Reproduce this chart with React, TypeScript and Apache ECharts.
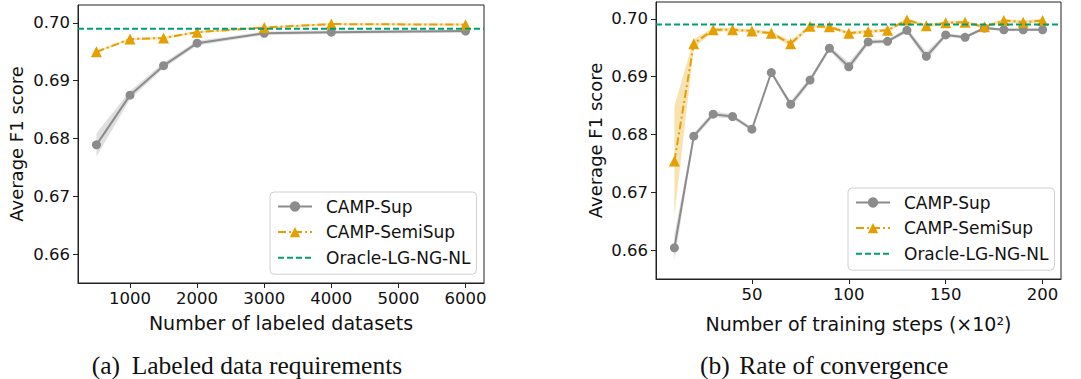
import React, { useEffect, useRef } from 'react';
import * as echarts from 'echarts';

// ---- Data: (a) Labeled data requirements ----
const leftX = [500, 1000, 1500, 2000, 3000, 4000, 6000];
const leftSup = [0.6789, 0.6875, 0.6926, 0.6965, 0.6982, 0.6984, 0.6986];
const leftSupErr = [0.002, 0.0007, 0.0005, 0.0004, 0.0003, 0.0003, 0.0003];
const leftSemi = [0.695, 0.6972, 0.6974, 0.6984, 0.6992, 0.6998, 0.6997];
const leftSemiErr = [0.0002, 0.0002, 0.0002, 0.0002, 0.0002, 0.0002, 0.0002];
const leftXTicks = [1000, 2000, 3000, 4000, 5000, 6000];

// ---- Data: (b) Rate of convergence ----
const rightX = [10, 20, 30, 40, 50, 60, 70, 80, 90, 100, 110, 120, 130, 140, 150, 160, 170, 180, 190, 200];
const rightSup = [0.6604, 0.6797, 0.6835, 0.6831, 0.6809, 0.6907, 0.6852, 0.6894, 0.6949, 0.6917, 0.696, 0.6961, 0.698, 0.6935, 0.6972, 0.6968, 0.6984, 0.6981, 0.6981, 0.6981];
const rightSupErr = [0.0023, 0.0005, 0.0005, 0.0004, 0.0003, 0.0002, 0.0006, 0.0005, 0.0004, 0.0008, 0.0004, 0.0003, 0.0004, 0.0008, 0.0003, 0.0003, 0.0002, 0.0002, 0.0002, 0.0002];
const rightSemi = [0.6754, 0.6957, 0.6981, 0.6981, 0.6979, 0.6975, 0.6957, 0.6987, 0.6986, 0.6975, 0.6978, 0.698, 0.6998, 0.6988, 0.6993, 0.6994, 0.6986, 0.6997, 0.6994, 0.6997];
const rightSemiErr = [0.0095, 0.0008, 0.0003, 0.0003, 0.0003, 0.0003, 0.0005, 0.0003, 0.0003, 0.0003, 0.0003, 0.0003, 0.0003, 0.0003, 0.0003, 0.0003, 0.0003, 0.0003, 0.0003, 0.0003];
const rightXTicks = [50, 100, 150, 200];

const oracleValue = 0.699;
const yTicks = [0.66, 0.67, 0.68, 0.69, 0.7];
const seriesNames = ['CAMP-Sup', 'CAMP-SemiSup', 'Oracle-LG-NG-NL'];

const GRAY = '#8c8c8c';
const ORANGE = '#e69f00';
const GREEN = '#009e73';
const AXIS = '#222';
const FONT = 'DejaVu Sans';

function xAxisCfg(gridIndex: number, min: number, max: number, ticks: number[]) {
  return {
    type: 'value', gridIndex, min, max,
    axisLine: { show: true, onZero: false, lineStyle: { color: AXIS, width: 1 } },
    axisTick: { show: true, length: 5, lineStyle: { color: AXIS, width: 1 }, customValues: ticks },
    axisLabel: { customValues: ticks, fontSize: 16.5, color: '#111', fontFamily: FONT, margin: 7,
      formatter: (v: number) => String(v) },
    splitLine: { show: false },
  };
}
function yAxisCfg(gridIndex: number, min: number, max: number) {
  return {
    type: 'value', gridIndex, min, max,
    axisLine: { show: true, onZero: false, lineStyle: { color: AXIS, width: 1 } },
    axisTick: { show: true, length: 5, lineStyle: { color: AXIS, width: 1 }, customValues: yTicks },
    axisLabel: { customValues: yTicks, fontSize: 16.5, color: '#111', fontFamily: FONT, margin: 8,
      formatter: (v: number) => v.toFixed(2) },
    splitLine: { show: false },
  };
}

// Shaded band (mean ± err) drawn as one polygon through the axis scales
function bandSeries(idx: number, xs: number[], mean: number[], err: number[], color: string) {
  return {
    type: 'custom', xAxisIndex: idx, yAxisIndex: idx, silent: true, z: 1,
    data: [[xs[0], mean[0]]],
    renderItem: (_params: any, api: any) => {
      const upper = xs.map((x, i) => api.coord([x, mean[i] + err[i]]));
      const lower = xs.map((x, i) => api.coord([x, mean[i] - err[i]])).reverse();
      return {
        type: 'polygon',
        shape: { points: upper.concat(lower) },
        style: { fill: color, stroke: 'none' },
      };
    },
  };
}

function mainSeries(idx: number, xs: number[], sup: number[], semi: number[], xmin: number, xmax: number) {
  return [
    {
      name: seriesNames[0], type: 'line', xAxisIndex: idx, yAxisIndex: idx,
      symbol: 'circle', symbolSize: 9,
      lineStyle: { color: GRAY, width: 2 }, itemStyle: { color: GRAY },
      data: xs.map((x, i) => [x, sup[i]]), z: 3,
    },
    {
      name: seriesNames[1], type: 'line', xAxisIndex: idx, yAxisIndex: idx,
      symbol: 'triangle', symbolSize: 11,
      lineStyle: { color: ORANGE, width: 2, type: [8, 3, 2, 3] }, itemStyle: { color: ORANGE },
      data: xs.map((x, i) => [x, semi[i]]), z: 4,
    },
    {
      name: seriesNames[2], type: 'line', xAxisIndex: idx, yAxisIndex: idx,
      symbol: 'none',
      lineStyle: { color: GREEN, width: 2, type: [6, 3], opacity: 1 }, itemStyle: { color: GREEN, opacity: 0 },
      data: [[xmin, oracleValue], [xmax, oracleValue]], z: 5,
    },
  ];
}

function legendCfg(left: number, top: number) {
  return {
    orient: 'vertical', left, top,
    itemWidth: 34, itemHeight: 13, itemGap: 8.6,
    padding: [6, 6, 8, 7],
    backgroundColor: 'rgba(255,255,255,0.85)', borderColor: '#d0d0d0', borderWidth: 1, borderRadius: 4,
    textStyle: { fontSize: 17, fontFamily: FONT, color: '#111', padding: [0, 0, 0, 9] },
    data: seriesNames, selectedMode: false,
  };
}

function txt(x: number, y: number, text: string, fontSize: number, family: string, align = 'center', rotation = 0) {
  return {
    type: 'text', x, y, rotation,
    style: { text, fontSize, fontFamily: family, fill: '#111', align, verticalAlign: 'middle',
      textAlign: align, textVerticalAlign: 'middle' },
  };
}

const option = {
  animation: false,
  backgroundColor: '#fff',
  grid: [
    { left: 78, top: 5, width: 406, height: 278, show: true, borderColor: AXIS, borderWidth: 1, backgroundColor: 'transparent' },
    { left: 656, top: 2, width: 405, height: 277, show: true, borderColor: AXIS, borderWidth: 1, backgroundColor: 'transparent' },
  ],
  xAxis: [xAxisCfg(0, 225, 6275, leftXTicks), xAxisCfg(1, 0.5, 209.5, rightXTicks)],
  yAxis: [yAxisCfg(0, 0.655, 0.7031), yAxisCfg(1, 0.655, 0.7029)],
  legend: [legendCfg(270, 192), legendCfg(848, 188)],
  series: [
    bandSeries(0, leftX, leftSup, leftSupErr, 'rgba(128,128,128,0.25)'),
    bandSeries(0, leftX, leftSemi, leftSemiErr, 'rgba(230,159,0,0.3)'),
    ...mainSeries(0, leftX, leftSup, leftSemi, 225, 6275),
    bandSeries(1, rightX, rightSup, rightSupErr, 'rgba(128,128,128,0.25)'),
    bandSeries(1, rightX, rightSemi, rightSemiErr, 'rgba(230,159,0,0.3)'),
    ...mainSeries(1, rightX, rightSup, rightSemi, 0.5, 209.5),
  ],
  graphic: [
    txt(16, 144, 'Average F1 score', 18, FONT, 'center', Math.PI / 2),
    txt(595, 140.5, 'Average F1 score', 18, FONT, 'center', Math.PI / 2),
    txt(281, 323, 'Number of labeled datasets', 19, FONT),
    txt(858.5, 324, 'Number of training steps (×10²)', 19, FONT),
    txt(91.7, 365, '(a)', 25.5, 'Liberation Serif', 'left'),
    txt(131.7, 365, 'Labeled data requirements', 25.5, 'Liberation Serif', 'left'),
    txt(700, 365, '(b)', 25.5, 'Liberation Serif', 'left'),
    txt(739.3, 365, 'Rate of convergence', 25.5, 'Liberation Serif', 'left'),
  ],
};

export default function App() {
  const ref = useRef<HTMLDivElement>(null);
  useEffect(() => {
    const chart = echarts.init(ref.current!, null, { renderer: 'svg' });
    chart.setOption(option as any);
    return () => chart.dispose();
  }, []);
  return (
    <div
      ref={ref}
      style={{ position: 'absolute', left: 0, top: 0, width: 1081, height: 379, background: '#fff' }}
    />
  );
}
